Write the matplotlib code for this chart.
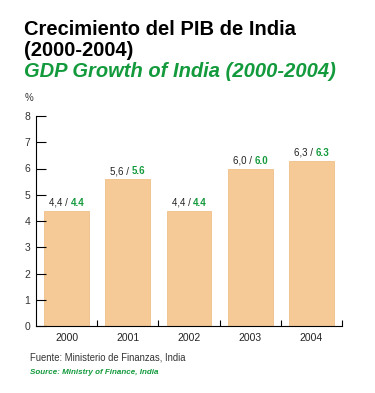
import matplotlib.pyplot as plt
import numpy as np

years = ['2000', '2001', '2002', '2003', '2004']
growth = [4.4, 5.6, 4.4, 6.0, 6.3]
labels_es = ['4,4 / ', '5,6 / ', '4,4 / ', '6,0 / ', '6,3 / ']
labels_en = ['4.4', '5.6', '4.4', '6.0', '6.3']

green = '#139a3c'
bar_col = '#f5ca96'

plt.rcParams['font.family'] = ['Liberation Sans', 'DejaVu Sans']

fig = plt.figure(figsize=(3.75, 3.93), dpi=100)
ax = fig.add_axes([36/375, 67/393, 306/375, 210/393])

x = np.arange(len(years))
ax.bar(x, growth, width=0.735, color=bar_col, edgecolor='#f0c088', lw=0.6)

for i in x:
    ax.annotate(labels_es[i], (i, growth[i]), xytext=(3, 2), textcoords='offset points',
                ha='right', va='bottom', fontsize=7, color='#222222')
    ax.annotate(labels_en[i], (i, growth[i]), xytext=(3, 2), textcoords='offset points',
                ha='left', va='bottom', fontsize=7, color=green, fontweight='bold')

ax.set_xlim(-0.5, 4.5)
ax.set_ylim(0, 8)
ax.set_yticks(range(9))
ax.set_xticks(x)
ax.set_xticklabels(years)
ax.set_xticks(np.arange(0.5, 5, 1), minor=True)
ax.tick_params(axis='x', which='major', length=0, pad=5, labelsize=7.5, labelcolor='#222222')
ax.tick_params(axis='x', which='minor', length=4, direction='in', width=0.8)
ax.tick_params(axis='y', length=7, direction='in', width=0.8, pad=4, labelsize=7.5, labelcolor='#333333')
for s in ['top', 'right']:
    ax.spines[s].set_visible(False)
for s in ['left', 'bottom']:
    ax.spines[s].set_linewidth(0.8)

fig.text(29/375, 1 - 101/393, '%', fontsize=7, color='#333333', va='baseline', ha='center')

fig.text(24/375, 1 - 35/393, 'Crecimiento del PIB de India', fontsize=14.5, fontweight='bold', va='baseline')
fig.text(24/375, 1 - 56/393, '(2000-2004)', fontsize=14.5, fontweight='bold', va='baseline')
fig.text(24/375, 1 - 77/393, 'GDP Growth of India (2000-2004)', fontsize=14.5, fontweight='bold',
         fontstyle='italic', color=green, va='baseline')

fig.text(30/375, 1 - 361/393, 'Fuente: Ministerio de Finanzas, India', fontsize=6.85, color='#333333', va='baseline')
fig.text(30/375, 1 - 374/393, 'Source: Ministry of Finance, India', fontsize=5.8, color=green,
         fontweight='bold', fontstyle='italic', va='baseline')

fig.savefig('out.png', dpi=100)
